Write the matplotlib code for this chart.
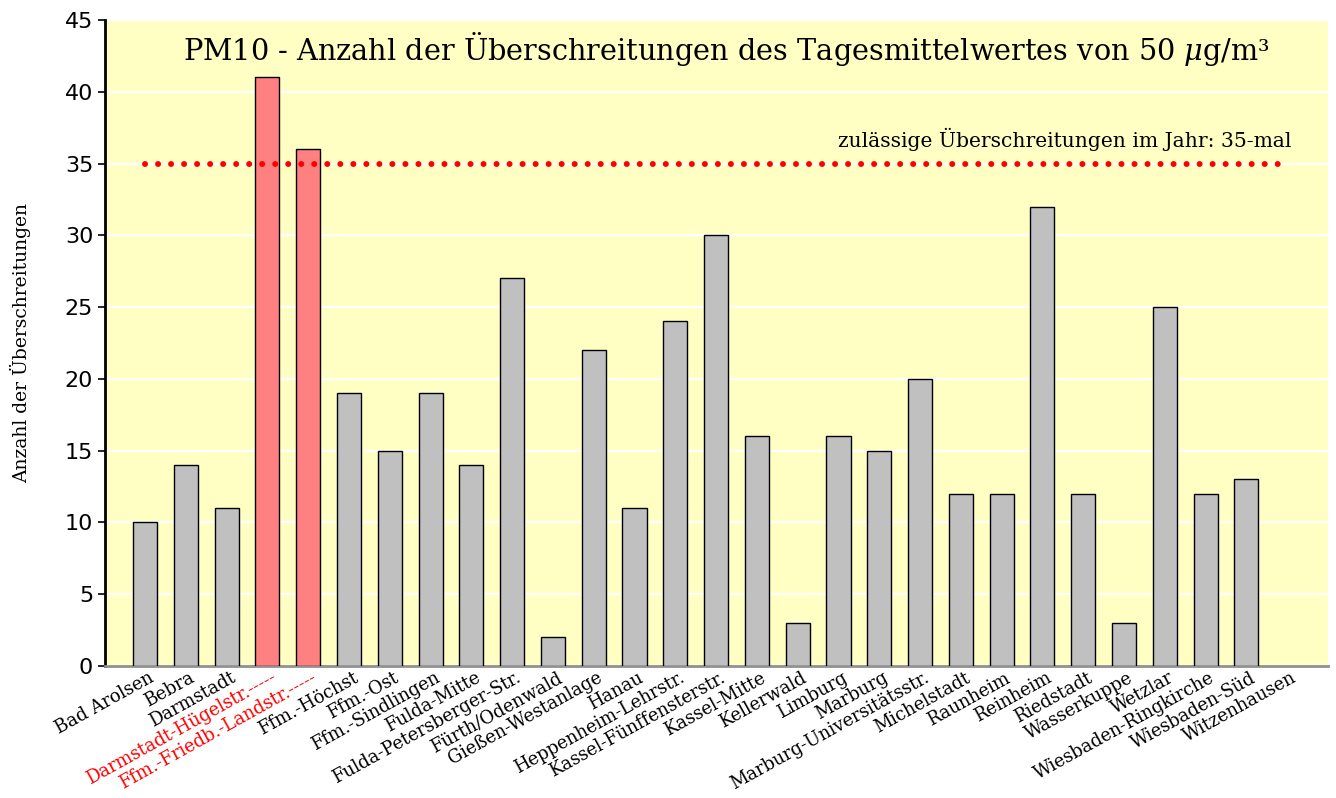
import matplotlib
matplotlib.use('Agg')
import matplotlib.pyplot as plt
import numpy as np

# Messstationen und Anzahl der Tage mit PM10-Tagesmittel > 50 µg/m³
stationen = ['Bad Arolsen', 'Bebra', 'Darmstadt', 'Darmstadt-Hügelstr.-----',
             'Ffm.-Friedb.-Landstr.-----', 'Ffm.-Höchst', 'Ffm.-Ost', 'Ffm.-Sindlingen',
             'Fulda-Mitte', 'Fulda-Petersberger-Str.', 'Fürth/Odenwald', 'Gießen-Westanlage',
             'Hanau', 'Heppenheim-Lehrstr.', 'Kassel-Fünffensterstr.', 'Kassel-Mitte',
             'Kellerwald', 'Limburg', 'Marburg', 'Marburg-Universitätsstr.', 'Michelstadt',
             'Raunheim', 'Reinheim', 'Riedstadt', 'Wasserkuppe', 'Wetzlar',
             'Wiesbaden-Ringkirche', 'Wiesbaden-Süd', 'Witzenhausen']
anzahl = [10, 14, 11, 41, 36, 19, 15, 19, 14, 27, 2, 22, 11, 24, 30, 16, 3, 16, 15, 20,
          12, 12, 32, 12, 3, 25, 12, 13, np.nan]
ueberschritten = ['Darmstadt-Hügelstr.-----', 'Ffm.-Friedb.-Landstr.-----']
grenzwert = 35
yticks = list(range(0, 50, 5))

plt.rcParams['mathtext.fontset'] = 'dejavuserif'
serif = 'DejaVu Serif'

fig = plt.figure(figsize=(13.36, 7.98), dpi=100)
ax = fig.add_axes([0.0786, 0.1654, 0.9154, 0.8095])
ax.set_facecolor('#FFFFC4')

x = np.arange(len(stationen))
farben = ['#FF8080' if s in ueberschritten else '#C0C0C0' for s in stationen]
ax.bar(x, anzahl, width=0.59, color=farben, edgecolor='black', linewidth=1.0, zorder=3)

# Grenzwertlinie (gepunktet)
ax.plot([x[0], x[-1]], [grenzwert, grenzwert], color='red', lw=4.3,
        linestyle=(0, (0.01, 2.17)), dash_capstyle='round', zorder=4)
ax.text(x[-1] + 0.1, grenzwert + 0.9, 'zulässige Überschreitungen im Jahr: 35-mal',
        ha='right', va='bottom', fontsize=14.6, family=serif, zorder=5)

# Titel innerhalb der Zeichenfläche
ax.text(14.25, 42.2, 'PM10 - Anzahl der Überschreitungen des Tagesmittelwertes von 50 $\\mu$g/m³',
        ha='center', va='baseline', fontsize=20.7, family=serif)

ax.set_xlim(-0.98, 29.0)
ax.set_ylim(0, 45)
ax.set_yticks(yticks)
ax.yaxis.grid(True, color='white', lw=1.6, zorder=1)
ax.set_axisbelow(True)

ax.set_xticks(x + 0.08)
ax.set_xticklabels(stationen, rotation=29, ha='right', rotation_mode='anchor',
                   fontsize=12.9, family=serif)
for lbl in ax.get_xticklabels():
    if lbl.get_text() in ueberschritten:
        lbl.set_color('red')
ax.tick_params(axis='x', length=0, pad=2)
ax.tick_params(axis='y', labelsize=16, length=5, width=1.2, direction='out')
ax.set_ylabel('Anzahl der Überschreitungen', fontsize=13.5, family=serif, labelpad=24)

for s in ['top', 'right']:
    ax.spines[s].set_visible(False)
ax.spines['left'].set_linewidth(2)
ax.spines['bottom'].set_color('#909090')
ax.spines['bottom'].set_linewidth(2)

fig.savefig('out.png', dpi=100)
